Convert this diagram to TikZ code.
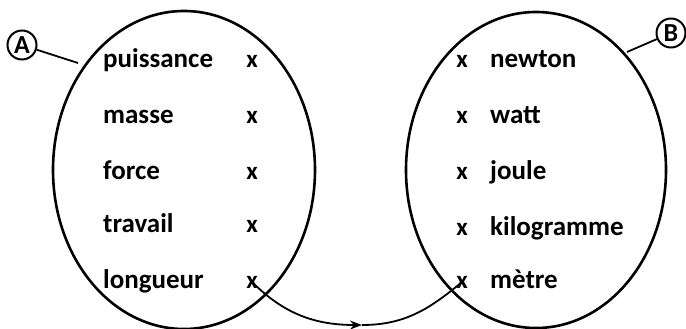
\documentclass[tikz,border=0pt]{standalone}
\usepackage{fontspec}
\setmainfont{Carlito}
\usetikzlibrary{arrows.meta}
\begin{document}
\begin{tikzpicture}[x=1pt,y=-1pt,
  lbl/.style={font=\bfseries\fontsize{27}{31}\selectfont, inner sep=0pt, anchor=base west},
  mk/.style={font=\bfseries\fontsize{25}{29}\selectfont, inner sep=0pt, anchor=base},
  set/.style={draw, line width=2.6pt},
  tag/.style={draw, circle, line width=2pt, inner sep=0pt, minimum size=29pt, font=\bfseries\fontsize{26}{30}\selectfont},
  conn/.style={line width=1.8pt}]
\useasboundingbox (0,0) rectangle (686,329);
\draw[set] (184,170) ellipse [x radius=131, y radius=159];
\draw[set] (536,170) ellipse [x radius=130, y radius=158];
\coordinate (eA) at (78,63);
\coordinate (eB) at (627,52);
\node[tag] (A) at (22,45) {A};
\node[tag] (B) at (671,33) {B};
\draw[conn] (A) -- (eA);
\draw[conn] (eB) -- (B);
% left labels
\node[lbl] (l1) at (103,68) {puissance};
\node[lbl] (l2) at (103,124) {masse};
\node[lbl] (l3) at (103,179) {force};
\node[lbl] (l4) at (103,232) {travail};
\node[lbl] (l5) at (103,288) {longueur};
\node[mk] (x1) at (252,68) {x};
\node[mk] (x2) at (252,124) {x};
\node[mk] (x3) at (252,179) {x};
\node[mk] (x4) at (252,232) {x};
\node[mk] (x5) at (252,288) {x};
% right labels
\node[mk] (y1) at (462,68) {x};
\node[mk] (y2) at (462,124) {x};
\node[mk] (y3) at (462,179) {x};
\node[mk] (y4) at (462,235) {x};
\node[mk] (y5) at (462,288) {x};
\node[lbl] (r1) at (490,68) {newton};
\node[lbl] (r2) at (490,124) {watt};
\node[lbl] (r3) at (490,179) {joule};
\node[lbl] (r4) at (490,235) {kilogramme};
\node[lbl] (r5) at (490,288) {mètre};
\coordinate (mid) at (362,325);
\draw[conn, -{Stealth[length=12pt,width=9pt]}] (x5.center) to[out=-45,in=180] (mid);
\draw[conn] (mid) to[out=0,in=-140] (y5.center);
\end{tikzpicture}
\end{document}
